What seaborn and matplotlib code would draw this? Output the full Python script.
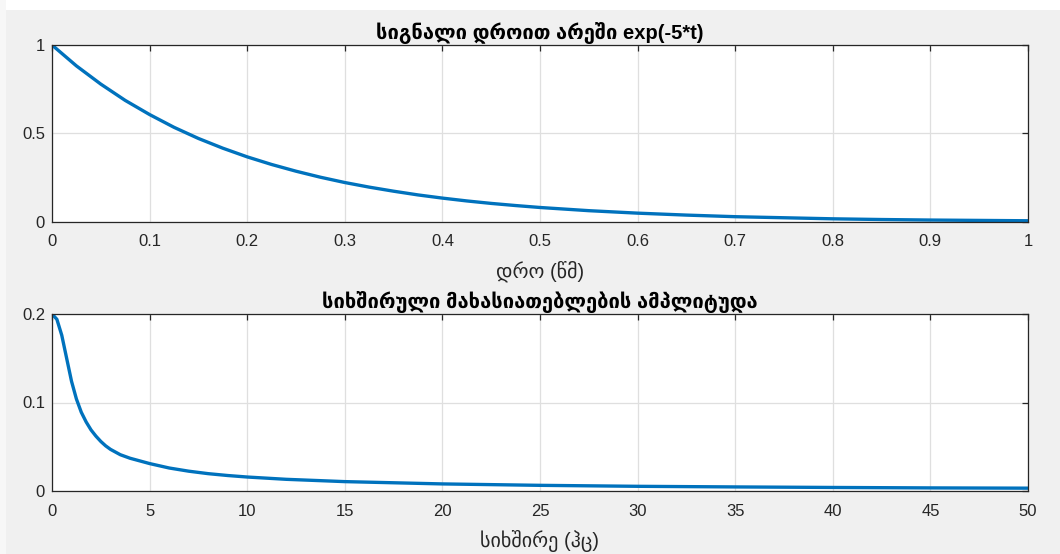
import matplotlib
matplotlib.use("Agg")
import matplotlib.pyplot as plt
import seaborn as sns
import pandas as pd
from matplotlib.patches import Rectangle

# ---- data ----
t_values = [0.0, 0.025, 0.05, 0.075, 0.10, 0.125, 0.15, 0.175, 0.20, 0.225, 0.25,
            0.275, 0.30, 0.325, 0.35, 0.375, 0.40, 0.425, 0.45, 0.475, 0.50,
            0.55, 0.60, 0.65, 0.70, 0.75, 0.80, 0.85, 0.90, 0.95, 1.0]
signal_values = [1.0, 0.882, 0.779, 0.687, 0.607, 0.535, 0.472, 0.417, 0.368, 0.325, 0.287,
                 0.253, 0.223, 0.197, 0.174, 0.153, 0.135, 0.119, 0.105, 0.093, 0.082,
                 0.064, 0.050, 0.039, 0.030, 0.024, 0.018, 0.014, 0.011, 0.009, 0.007]

f_values = [0, 0.25, 0.5, 0.75, 1.0, 1.25, 1.5, 1.75, 2.0, 2.25, 2.5, 2.75, 3.0, 3.5, 4.0,
            4.5, 5.0, 5.5, 6.0, 7.0, 8.0, 9.0, 10.0, 12.0, 15.0, 20.0, 25.0, 30.0, 35.0,
            40.0, 45.0, 50.0]
amp_values = [0.200, 0.194, 0.176, 0.150, 0.124, 0.104, 0.089, 0.078, 0.069, 0.062, 0.056,
              0.051, 0.047, 0.041, 0.037, 0.034, 0.031, 0.0285, 0.026, 0.0224, 0.0196,
              0.0175, 0.0158, 0.0132, 0.0106, 0.0080, 0.0064, 0.0053, 0.0046, 0.0040,
              0.0035, 0.0032]

top_title = "სიგნალი დროით არეში exp(-5*t)"
bottom_title = "სიხშირული მახასიათებლების ამპლიტუდა"
top_xlabel = "დრო (წმ)"
bottom_xlabel = "სიხშირე (ჰც)"
top_xticks = [0, 0.1, 0.2, 0.3, 0.4, 0.5, 0.6, 0.7, 0.8, 0.9, 1]
top_xticklabels = ["0", "0.1", "0.2", "0.3", "0.4", "0.5", "0.6", "0.7", "0.8", "0.9", "1"]
top_yticks = [0, 0.5, 1]
top_yticklabels = ["0", "0.5", "1"]
bottom_xticks = [0, 5, 10, 15, 20, 25, 30, 35, 40, 45, 50]
bottom_yticks = [0, 0.1, 0.2]
bottom_yticklabels = ["0", "0.1", "0.2"]

sns.set_style("white")
plt.rcParams['font.family'] = ['Liberation Sans', 'DejaVu Sans']

LINE = "#0072BD"
TXT = "#262626"
fig = plt.figure(figsize=(10.60, 5.54), dpi=100, facecolor="#F0F0F0")
# white screenshot strips
fig.patches.append(Rectangle((0, 1 - 10 / 554), 1, 10 / 554, transform=fig.transFigure,
                             facecolor="white", edgecolor="none", zorder=-1))
fig.patches.append(Rectangle((0, 0), 6 / 1060, 1, transform=fig.transFigure,
                             facecolor="#F7F7F7", edgecolor="none", zorder=-1))

left = 52 / 1060
width = 976 / 1060
height = 177 / 554
ax1 = fig.add_axes([left, 1 - 222 / 554, width, height])
ax2 = fig.add_axes([left, 1 - 491 / 554, width, height])

df1 = pd.DataFrame({"t": t_values, "y": signal_values})
df2 = pd.DataFrame({"f": f_values, "a": amp_values})
sns.lineplot(data=df1, x="t", y="y", ax=ax1, color=LINE, linewidth=2.4)
sns.lineplot(data=df2, x="f", y="a", ax=ax2, color=LINE, linewidth=2.4)

def style(ax, xt, xtl, yt, ytl, xlim, ylim, title, xlabel):
    ax.set_facecolor("white")
    ax.set_xlim(*xlim)
    ax.set_ylim(*ylim)
    ax.set_xticks(xt)
    ax.set_xticklabels(xtl)
    ax.set_yticks(yt)
    ax.set_yticklabels(ytl)
    ax.grid(True, color="#DFDFDF", linewidth=0.9)
    ax.set_axisbelow(True)
    for s in ax.spines.values():
        s.set_color("#262626")
        s.set_linewidth(0.9)
        s.set_visible(True)
    ax.tick_params(direction="in", length=4, width=0.9, top=True, right=True,
                   colors="#262626", labelcolor=TXT, labelsize=12)
    ax.tick_params(axis="x", pad=9)
    ax.tick_params(axis="y", pad=5)
    ax.set_title(title, fontsize=14.5, fontweight="bold", color="black", pad=4)
    ax.set_xlabel(xlabel, fontsize=14.5, color=TXT, labelpad=8)
    ax.set_ylabel("")

style(ax1, top_xticks, top_xticklabels, top_yticks, top_yticklabels,
      (0, 1), (0, 1), top_title, top_xlabel)
style(ax2, bottom_xticks, [str(v) for v in bottom_xticks], bottom_yticks, bottom_yticklabels,
      (0, 50), (0, 0.2), bottom_title, bottom_xlabel)

fig.savefig("out.png", dpi=100, facecolor=fig.get_facecolor())
